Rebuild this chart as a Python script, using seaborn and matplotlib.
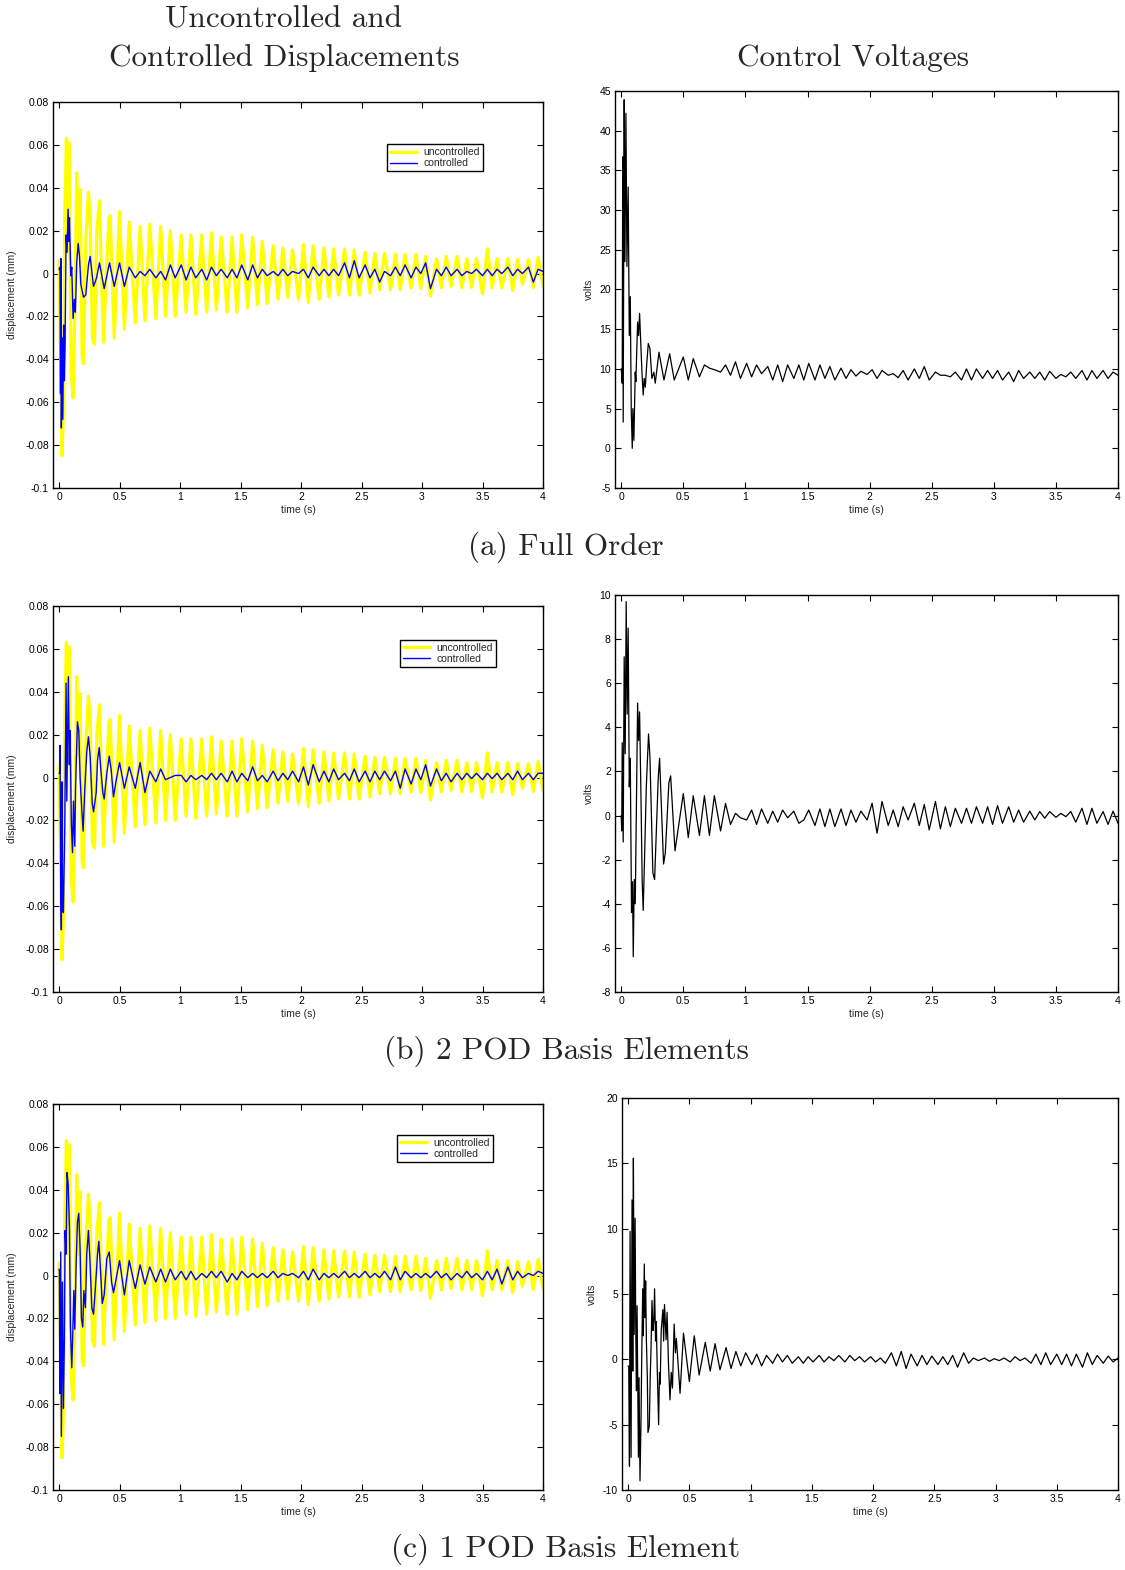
import numpy as np
import pandas as pd
import matplotlib
matplotlib.use("Agg")
import matplotlib.pyplot as plt
from matplotlib.lines import Line2D
from matplotlib.ticker import FuncFormatter, MultipleLocator
import seaborn as sns

# ---------------- data ----------------
# shared sample times (half-period of the ~12 Hz mode) for t >= 0.5 s
GRID_T = [0.50,0.54,0.58,0.63,0.67,0.71,0.75,0.80,0.84,0.88,
          0.92,0.96,1.01,1.05,1.09,1.13,1.18,1.22,1.26,1.30,
          1.34,1.39,1.43,1.47,1.51,1.56,1.60,1.64,1.68,1.72,
          1.77,1.81,1.85,1.89,1.93,1.98,2.02,2.06,2.10,2.15,
          2.19,2.23,2.27,2.31,2.36,2.40,2.44,2.48,2.53,2.57,
          2.61,2.65,2.69,2.74,2.78,2.82,2.86,2.91,2.95,2.99,
          3.03,3.07,3.12,3.16,3.20,3.24,3.29,3.33,3.37,3.41,
          3.45,3.50,3.54,3.58,3.62,3.66,3.71,3.75,3.79,3.83,
          3.88,3.92,3.96,4.00]

# uncontrolled displacement (same in all three cases)
YEL_EARLY_T = [0.000,0.010,0.025,0.036,0.047,0.061,0.072,0.083,0.100,0.116,
               0.130,0.146,0.160,0.174,0.191,0.202,0.221,0.243,0.257,0.276,
               0.293,0.312,0.334,0.350,0.368,0.390,0.412,0.423,0.456]
YEL_EARLY_V = [0.006,-0.030,-0.085,-0.065,0.027,0.063,0.010,0.061,-0.046,-0.058,
               -0.020,0.047,0.010,0.039,-0.039,-0.042,0.015,0.038,0.027,-0.030,
               -0.033,0.020,0.034,0.000,-0.032,0.000,0.026,0.027,-0.030]
YEL_LATE_V = [0.029,-0.026,0.024,-0.023,0.022,-0.022,0.023,-0.021,0.022,-0.020,
              0.020,-0.020,0.018,-0.018,0.018,-0.019,0.018,-0.018,0.019,-0.017,
              0.017,-0.018,0.017,-0.018,0.018,-0.016,0.017,-0.0145,0.015,-0.014,
              0.013,-0.012,0.012,-0.011,0.011,-0.012,0.0135,-0.0135,0.013,-0.012,
              0.012,-0.011,0.0115,-0.010,0.0115,-0.010,0.011,-0.010,0.010,-0.009,
              0.0095,-0.0075,0.0095,-0.0075,0.009,-0.0075,0.009,-0.0067,0.009,-0.007,
              0.008,-0.0105,0.007,-0.0067,0.008,-0.006,0.008,-0.0067,0.007,-0.0065,
              0.007,-0.0095,0.0115,-0.0067,0.007,-0.0067,0.007,-0.008,0.0065,-0.005,
              0.0065,-0.0065,0.0075,-0.006]

# controlled displacement, (a) full order
BLUE_A_EARLY_T = [0.000,0.008,0.012,0.015,0.019,0.025,0.031,0.038,0.044,0.050,
                  0.058,0.066,0.075,0.080,0.086,0.097,0.105,0.116,0.127,0.135,
                  0.146,0.158,0.169,0.180,0.202,0.221,0.243,0.257,0.285,0.310,
                  0.334,0.373,0.417,0.456]
BLUE_A_EARLY_V = [0.002,0.003,-0.056,0.007,-0.072,-0.030,-0.068,-0.024,-0.050,-0.033,
                  0.018,0.010,0.030,0.015,0.026,-0.001,0.003,-0.021,-0.012,-0.018,
                  0.005,0.014,0.008,-0.005,-0.011,-0.010,0.004,0.008,-0.006,-0.002,
                  0.005,-0.007,0.005,-0.006]
BLUE_A_LATE_V = [0.005,-0.006,0.003,-0.002,0.001,-0.001,0.002,-0.002,0.001,-0.003,
                 0.004,-0.002,0.004,-0.003,0.003,-0.002,0.002,-0.003,0.003,-0.001,
                 0.002,-0.002,0.002,-0.002,0.004,-0.003,0.004,-0.002,0.002,-0.001,
                 0.001,-0.001,0.002,-0.001,0.001,0.000,0.002,-0.002,0.003,-0.001,
                 0.002,-0.001,0.002,-0.001,0.005,-0.002,0.006,-0.002,0.004,-0.002,
                 0.002,-0.004,0.001,-0.001,0.003,-0.001,0.004,-0.002,0.003,0.000,
                 0.005,-0.007,0.002,-0.001,0.003,-0.001,0.002,-0.001,0.001,0.000,
                 0.002,-0.001,0.002,-0.001,0.002,0.000,0.003,-0.001,0.002,0.000,
                 0.003,-0.004,0.002,0.001]

# controlled displacement, (b) 2 POD basis elements
BLUE_B_EARLY_T = [0.000,0.005,0.008,0.014,0.019,0.024,0.030,0.036,0.047,0.058,
                  0.064,0.077,0.085,0.091,0.102,0.111,0.119,0.130,0.136,0.152,
                  0.163,0.174,0.188,0.199,0.213,0.229,0.243,0.257,0.274,0.285,
                  0.307,0.318,0.332,0.345,0.362,0.373,0.395,0.415,0.430,0.450,
                  0.470]
BLUE_B_EARLY_V = [0.002,0.002,0.015,-0.052,-0.071,-0.002,-0.062,-0.063,-0.024,0.044,
                  -0.011,0.047,0.006,0.022,-0.022,-0.035,-0.011,-0.032,-0.005,0.026,
                  0.022,0.000,-0.015,-0.025,-0.005,0.012,0.019,0.010,-0.012,-0.016,
                  -0.007,0.008,0.014,0.004,-0.007,-0.010,0.002,0.010,0.004,-0.009,
                  -0.002]
BLUE_B_LATE_V = [0.007,-0.005,0.005,-0.005,0.007,-0.007,0.003,-0.002,0.004,-0.001,
                 0.000,0.001,0.001,-0.002,0.001,-0.001,0.001,-0.001,0.002,-0.001,
                 0.002,-0.002,0.003,-0.002,0.002,-0.0015,0.005,-0.0015,0.001,-0.002,
                 0.003,-0.0015,0.002,-0.001,0.003,-0.002,0.005,-0.0035,0.006,-0.002,
                 0.003,-0.002,0.004,-0.001,0.002,-0.0015,0.004,-0.002,0.003,-0.002,
                 0.003,-0.001,0.003,-0.0015,0.003,-0.005,0.004,-0.003,0.004,-0.001,
                 0.006,-0.004,0.004,-0.0015,0.002,-0.002,0.002,-0.001,0.002,-0.0005,
                 0.002,-0.001,0.002,-0.0005,0.002,-0.001,0.002,-0.001,0.003,-0.001,
                 0.002,-0.001,0.002,0.002]

# controlled displacement, (c) 1 POD basis element
BLUE_C_EARLY_T = [0.000,0.003,0.006,0.014,0.019,0.028,0.036,0.044,0.050,0.058,
                  0.066,0.075,0.086,0.094,0.105,0.113,0.122,0.130,0.141,0.152,
                  0.163,0.174,0.185,0.196,0.205,0.218,0.229,0.243,0.257,0.271,
                  0.285,0.301,0.318,0.329,0.345,0.357,0.373,0.395,0.415,0.434,
                  0.450,0.467]
BLUE_C_EARLY_V = [0.003,0.002,-0.055,0.011,-0.075,-0.003,-0.062,-0.030,0.021,0.010,
                  0.048,0.043,0.022,-0.024,-0.043,-0.028,-0.007,-0.025,0.005,0.025,
                  0.029,0.012,-0.020,-0.024,-0.007,-0.015,0.010,0.021,0.005,-0.015,
                  -0.018,-0.005,0.010,0.016,0.000,-0.013,-0.009,0.008,0.011,-0.003,
                  -0.008,-0.003]
BLUE_C_LATE_V = [0.007,-0.009,0.007,-0.006,0.005,-0.004,0.004,-0.003,0.003,-0.003,
                 0.003,-0.002,0.002,-0.002,0.002,-0.002,0.001,-0.001,0.002,-0.001,
                 0.002,-0.003,0.001,-0.002,0.002,-0.001,0.001,-0.001,0.001,-0.001,
                 0.002,-0.001,0.001,0.000,0.001,-0.001,0.002,-0.002,0.003,-0.002,
                 0.001,-0.001,0.001,-0.001,0.002,-0.001,0.001,-0.001,0.002,-0.001,
                 0.001,-0.001,0.002,-0.002,0.004,-0.002,0.002,-0.001,0.001,-0.001,
                 0.001,-0.001,0.002,-0.001,0.001,-0.002,0.001,-0.001,0.002,-0.001,
                 0.001,-0.002,0.002,-0.002,0.003,-0.004,0.004,-0.002,0.002,-0.001,
                 0.001,0.000,0.002,0.001]

# control voltages
VOLT_A_EARLY_T = [0.000,0.005,0.008,0.012,0.016,0.024,0.030,0.038,0.046,0.056,
                  0.065,0.073,0.081,0.089,0.094,0.102,0.113,0.118,0.132,0.140,
                  0.148,0.156,0.167,0.177,0.185,0.194,0.205,0.218,0.231,0.247,
                  0.263,0.274,0.304,0.344,0.390,0.427]
VOLT_A_EARLY_V = [10.0,9.2,8.2,36.7,3.3,43.9,23.5,42.2,22.9,32.9,
                  14.2,19.1,4.6,0.0,5.0,1.0,9.6,8.4,15.9,14.2,
                  17.0,13.8,9.6,6.7,8.8,7.7,10.5,13.2,12.6,8.8,
                  9.6,8.2,12.1,8.6,11.9,8.6]
VOLT_A_LATE_V = [11.5,8.6,11.3,9.0,10.5,10.1,9.9,9.6,10.5,9.2,
                 10.9,8.8,10.7,9.0,10.5,9.4,10.3,8.6,10.5,8.4,
                 10.5,8.8,10.5,8.6,10.7,8.6,10.5,8.8,10.3,8.6,
                 10.1,8.8,9.9,9.1,9.7,9.3,9.9,8.8,9.8,9.2,
                 9.4,8.9,9.8,8.6,10.0,8.8,10.3,8.6,9.6,9.2,
                 9.2,9.0,9.6,8.6,10.0,8.6,10.0,8.8,9.8,8.8,
                 9.8,8.6,9.6,8.4,9.8,8.8,9.6,8.8,9.6,8.6,
                 9.7,8.8,9.3,9.0,9.6,8.8,9.8,8.6,9.8,8.8,
                 9.8,8.8,9.6,9.2]

VOLT_B_EARLY_T = [0.000,0.004,0.008,0.016,0.024,0.032,0.040,0.048,0.056,0.065,
                  0.073,0.083,0.091,0.097,0.105,0.113,0.124,0.132,0.140,0.148,
                  0.159,0.169,0.177,0.188,0.202,0.220,0.231,0.255,0.269,0.298,
                  0.309,0.341,0.355,0.384,0.398,0.433]
VOLT_B_EARLY_V = [0.0,-0.7,3.3,-1.2,7.2,2.8,9.7,4.6,8.5,1.3,
                  2.6,-4.4,-3.0,-6.4,-2.9,-4.0,1.2,5.1,3.4,4.7,
                  0.9,-3.0,-4.3,-1.9,1.3,3.7,2.7,-2.6,-2.9,1.7,
                  2.6,-2.2,-1.7,1.5,1.8,-1.6]
VOLT_B_LATE_V = [1.0,-1.0,0.9,-0.9,0.9,-0.9,0.9,-0.7,0.55,-0.4,
                 0.1,-0.1,-0.2,0.25,-0.4,0.3,-0.35,0.2,-0.3,0.25,
                 -0.1,0.2,-0.35,-0.2,0.25,-0.45,0.3,-0.5,0.3,-0.5,
                 0.3,-0.45,0.25,-0.3,0.2,-0.2,0.56,-0.8,0.64,-0.45,
                 0.25,-0.5,0.4,-0.2,0.56,-0.45,0.5,-0.65,0.64,-0.6,
                 0.4,-0.5,0.33,-0.35,0.33,-0.35,0.4,-0.35,0.4,-0.4,
                 0.45,-0.35,0.4,-0.3,0.25,-0.3,0.2,-0.2,0.18,-0.12,
                 0.18,-0.08,0.1,-0.05,0.18,-0.3,0.33,-0.4,0.33,-0.35,
                 0.18,-0.4,0.2,-0.35]

VOLT_C_EARLY_T = [0.000,0.005,0.011,0.016,0.024,0.032,0.038,0.043,0.049,0.057,
                  0.062,0.068,0.073,0.078,0.084,0.089,0.097,0.105,0.111,0.119,
                  0.124,0.132,0.138,0.143,0.149,0.157,0.162,0.173,0.181,0.186,
                  0.195,0.203,0.210,0.216,0.224,0.230,0.238,0.249,0.256,0.262,
                  0.270,0.284,0.290,0.297,0.310,0.318,0.330,0.342,0.352,0.362,
                  0.376,0.386,0.394,0.424,0.452]
VOLT_C_EARLY_V = [-0.5,-0.6,-8.2,9.8,-7.5,12.2,-0.9,15.4,1.9,10.8,
                  2.7,-2.4,4.1,-1.3,-7.5,-1.4,-9.3,-4.8,0.1,5.4,
                  1.8,7.3,3.2,6.0,1.5,-1.4,-5.6,-5.1,-1.1,0.4,
                  4.5,2.2,3.0,5.4,1.4,2.9,-0.8,-5.0,-1.0,-1.9,
                  2.2,3.8,1.4,4.2,1.5,3.6,-0.5,-3.1,-1.0,-2.2,
                  2.7,0.5,1.6,-2.6,2.0]
VOLT_C_LATE_V = [-1.7,1.8,-1.2,1.3,-0.9,1.2,-0.8,0.9,-0.7,0.6,
                 -0.5,0.5,-0.4,0.4,-0.5,0.3,-0.3,0.4,-0.2,0.3,
                 -0.3,0.2,-0.3,0.2,-0.2,0.3,-0.2,0.2,-0.1,0.3,
                 -0.2,0.3,-0.1,0.2,-0.2,0.2,-0.2,0.1,-0.3,0.5,
                 -0.5,0.6,-0.7,0.4,-0.5,0.3,-0.4,0.25,-0.4,0.2,
                 -0.4,0.3,-0.6,0.5,-0.3,0.1,-0.1,0.1,-0.15,0.05,
                 -0.1,0.1,-0.2,0.2,-0.1,0.1,-0.3,0.4,-0.4,0.5,
                 -0.4,0.4,-0.4,0.4,-0.5,0.4,-0.6,0.5,-0.4,0.3,
                 -0.3,0.25,-0.2,0.1]

LEGEND_LABELS = ["uncontrolled", "controlled"]
TITLE_LEFT = ["Uncontrolled and", "Controlled Displacements"]
TITLE_RIGHT = "Control Voltages"
CAPTIONS = ["(a) Full Order", "(b) 2 POD Basis Elements", "(c) 1 POD Basis Element"]

# ---------------- style ----------------
sns.set_theme(style="ticks")
plt.rcParams["font.family"] = ["Liberation Sans", "DejaVu Sans"]
plt.rcParams["axes.unicode_minus"] = False

YELLOW = "#ffff00"
BLUE = "#0000ff"

fig = plt.figure(figsize=(11.25, 15.7), dpi=100)
W, H = 1125.0, 1570.0


def ax_at(x0, y0, x1, y1):
    return fig.add_axes([x0 / W, 1 - y1 / H, (x1 - x0) / W, (y1 - y0) / H])


def fmt(v, pos):
    if abs(v) < 1e-9:
        return "0"
    return "%g" % round(v, 6)


def style(ax, ylim, ystep):
    ax.set_facecolor("white")
    ax.set_xlim(-0.05, 4.0)
    ax.set_ylim(*ylim)
    ax.xaxis.set_major_locator(MultipleLocator(0.5))
    ax.yaxis.set_major_locator(MultipleLocator(ystep))
    ax.xaxis.set_major_formatter(FuncFormatter(fmt))
    ax.yaxis.set_major_formatter(FuncFormatter(fmt))
    ax.tick_params(direction="in", top=True, right=True, length=4, width=0.8,
                   labelsize=7.5, pad=3, colors="black")
    for s in ax.spines.values():
        s.set_color("black")
        s.set_linewidth(1.0)
        s.set_visible(True)
    ax.set_xlabel("time (s)", fontsize=7.5, labelpad=2)


def series(t_early, v_early, v_late):
    return pd.DataFrame({"t": list(t_early) + GRID_T, "v": list(v_early) + list(v_late)})


yel = series(YEL_EARLY_T, YEL_EARLY_V, YEL_LATE_V)
blues = [series(BLUE_A_EARLY_T, BLUE_A_EARLY_V, BLUE_A_LATE_V),
         series(BLUE_B_EARLY_T, BLUE_B_EARLY_V, BLUE_B_LATE_V),
         series(BLUE_C_EARLY_T, BLUE_C_EARLY_V, BLUE_C_LATE_V)]
volts = [series(VOLT_A_EARLY_T, VOLT_A_EARLY_V, VOLT_A_LATE_V),
         series(VOLT_B_EARLY_T, VOLT_B_EARLY_V, VOLT_B_LATE_V),
         series(VOLT_C_EARLY_T, VOLT_C_EARLY_V, VOLT_C_LATE_V)]

left_boxes = [(53, 102, 543, 488), (53, 606, 543, 992), (53, 1104, 543, 1490)]
right_boxes = [(615, 91, 1118, 488), (615, 595, 1118, 992), (622, 1098, 1118, 1490)]
volt_lims = [((-5, 45), 5), ((-8, 10), 2), ((-10, 20), 5)]
legend_anchor = [(0.878, 0.891), (0.904, 0.912), (0.898, 0.920)]

for i in range(3):
    axl = ax_at(*left_boxes[i])
    sns.lineplot(data=yel, x="t", y="v", ax=axl, color=YELLOW, linewidth=2.3,
                 estimator=None, sort=False, legend=False)
    sns.lineplot(data=blues[i], x="t", y="v", ax=axl, color=BLUE, linewidth=1.0,
                 estimator=None, sort=False, legend=False)
    style(axl, (-0.1, 0.08), 0.02)
    axl.set_ylabel("displacement (mm)", fontsize=7.5, labelpad=6)
    handles = [Line2D([], [], color=YELLOW, lw=2.3), Line2D([], [], color=BLUE, lw=1.0)]
    leg = axl.legend(handles, LEGEND_LABELS, loc="upper right",
                     bbox_to_anchor=legend_anchor[i], fontsize=7.5, frameon=True,
                     fancybox=False, framealpha=1, edgecolor="black",
                     handlelength=2.6, handletextpad=0.6, borderpad=0.3,
                     labelspacing=0.1, borderaxespad=0)
    leg.get_frame().set_linewidth(1.0)

    axr = ax_at(*right_boxes[i])
    sns.lineplot(data=volts[i], x="t", y="v", ax=axr, color="black", linewidth=0.9,
                 estimator=None, sort=False, legend=False)
    (lim, step) = volt_lims[i]
    style(axr, lim, step)
    axr.set_ylabel("volts", fontsize=7.5, labelpad=4)

serif = "cmr10"
TS = 22.5
fig.text(284 / W, 1 - 20 / H, TITLE_LEFT[0], ha="center", va="center",
         fontsize=TS, family=serif)
fig.text(284 / W, 1 - 58 / H, TITLE_LEFT[1], ha="center", va="center",
         fontsize=TS, family=serif)
fig.text(853 / W, 1 - 58 / H, TITLE_RIGHT, ha="center", va="center",
         fontsize=TS, family=serif)
for cap, y in zip(CAPTIONS, [547, 1051, 1549]):
    fig.text(566 / W, 1 - y / H, cap, ha="center", va="center", fontsize=TS, family=serif)

fig.savefig("out.png", dpi=100, facecolor="white")
